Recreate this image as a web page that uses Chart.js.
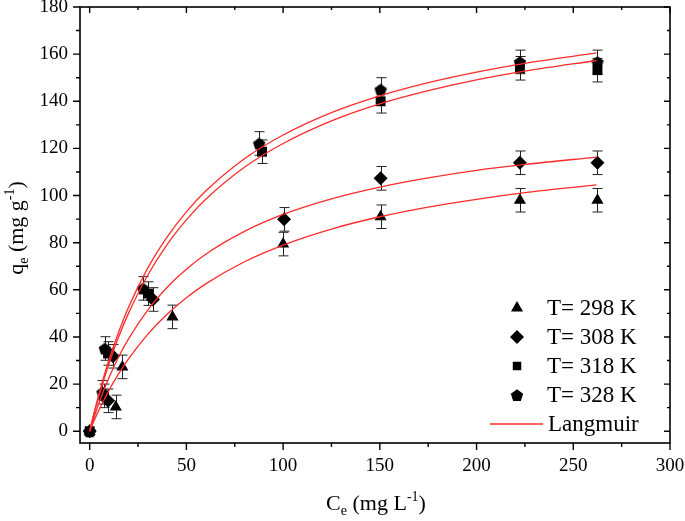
<!DOCTYPE html>
<html>
<head>
<meta charset="utf-8">
<script src="https://cdn.jsdelivr.net/npm/chart.js@4.4.0/dist/chart.umd.min.js"></script>
<style>
  html, body { margin: 0; padding: 0; background: #fff; }
</style>
</head>
<body>
<canvas id="chart" width="685" height="521"></canvas>
<script>
const ce298 = [0, 13.5, 16.9, 42.8, 100, 150.4, 222.4, 262.5];
const qe298 = [0, 10.3, 27.3, 48.5, 79.4, 91, 98, 98];
const ce308 = [0, 9.5, 12, 32.7, 100.5, 150.4, 222.4, 262.5];
const qe308 = [0, 12.9, 31.8, 55.9, 89.9, 107.3, 113.9, 113.9];
const ce318 = [0, 7.2, 9.5, 30.2, 89.1, 150.4, 222.4, 262.5];
const qe318 = [0, 15.0, 33, 58.4, 118.6, 140, 154, 153.2];
const ce328 = [0, 6.6, 7.8, 27.6, 87.6, 150.4, 222.4, 262.5];
const qe328 = [0, 16.5, 35.1, 60.6, 122.1, 145, 156.7, 156.7];
// error bar half heights
const err298 = [0, 5, 5, 5, 5, 5, 5, 5];
const err308 = [0, 5, 5, 5, 5, 5, 5, 5];
const err318 = [0, 5, 5, 5, 5, 5, 5, 5];
const err328 = [0, 5, 5, 5, 5, 5, 5, 5];

// Langmuir curves
const fitCe = [0, 2, 5, 10, 15, 20, 30, 40, 50, 60, 80, 100, 125, 150, 175, 200, 225, 262];
const fit298 = [0, 3.9, 9.3, 17.4, 24.4, 30.6, 41.1, 49.6, 56.6, 62.5, 71.9, 79.0, 85.8, 91.0, 95.1, 98.4, 101.2, 104.5];
const fit308 = [0, 5.2, 12.4, 22.8, 31.6, 39.1, 51.4, 61.0, 68.7, 75.1, 84.8, 92.0, 98.6, 103.6, 107.5, 110.7, 113.2, 116.3];
const fit318 = [0, 6.5, 15.5, 28.7, 40.1, 49.9, 66.2, 79.2, 89.7, 98.4, 112.0, 122.1, 131.7, 138.9, 144.5, 149.1, 152.8, 157.3];
const fit328 = [0, 6.9, 16.4, 30.3, 42.1, 52.4, 69.2, 82.4, 93.1, 101.9, 115.6, 125.7, 135.2, 142.3, 147.9, 152.4, 156.1, 160.5];

// axis ticks (labelled ones are the majors)
const xTicks = [0, 25, 50, 75, 100, 125, 150, 175, 200, 225, 250, 275, 300];
const xLabels = [0, 50, 100, 150, 200, 250, 300];
const yTicks = [0, 10, 20, 30, 40, 50, 60, 70, 80, 90, 100, 110, 120, 130, 140, 150, 160, 170, 180];
const yLabels = [0, 20, 40, 60, 80, 100, 120, 140, 160, 180];

const seriesLabels = ["T= 298 K", "T= 308 K", "T= 318 K", "T= 328 K"];
const fitLabel = "Langmuir";

const SERIF = "'Liberation Serif', 'DejaVu Serif', serif";
const RED = "#ff2a2a";

// pentagon marker (no built-in style)
function makePentagon(size) {
  const c = document.createElement("canvas");
  c.width = size; c.height = size;
  const g = c.getContext("2d");
  const r = size / 2 - 0.5;
  g.beginPath();
  for (let i = 0; i < 5; i++) {
    const a = -Math.PI / 2 + i * 2 * Math.PI / 5;
    const px = size / 2 + r * Math.cos(a);
    const py = size / 2 + 0.8 + r * Math.sin(a);
    if (i === 0) g.moveTo(px, py); else g.lineTo(px, py);
  }
  g.closePath();
  g.fillStyle = "#000";
  g.fill();
  return c;
}
const pentagon = makePentagon(14);

const pts = (xs, ys) => xs.map((x, i) => ({ x: x, y: ys[i] }));

function markerSet(label, xs, ys, errs, style, radius) {
  return {
    label: label, data: pts(xs, ys), errs: errs,
    showLine: false, pointStyle: style, pointRadius: radius, pointHoverRadius: radius,
    backgroundColor: "#000", borderColor: "#000", borderWidth: 0, order: 2
  };
}
function fitSet(ys) {
  return {
    label: fitLabel, data: pts(fitCe, ys), showLine: true, pointRadius: 0,
    borderColor: RED, borderWidth: 1.3, cubicInterpolationMode: "monotone",
    fill: false, order: 1
  };
}

const datasets = [
  markerSet(seriesLabels[0], ce298, qe298, err298, "triangle", 7),
  markerSet(seriesLabels[1], ce308, qe308, err308, "rectRot", 7),
  markerSet(seriesLabels[2], ce318, qe318, err318, "rect", 7),
  markerSet(seriesLabels[3], ce328, qe328, err328, pentagon, 7),
  fitSet(fit298), fitSet(fit308), fitSet(fit318), fitSet(fit328)
];

const errorBars = {
  id: "errorBars",
  beforeDatasetsDraw(chart) {
    const ctx = chart.ctx, xs = chart.scales.x, ys = chart.scales.y;
    ctx.save();
    ctx.strokeStyle = "#222";
    ctx.lineWidth = 1;
    chart.data.datasets.forEach(ds => {
      if (!ds.errs) return;
      ds.data.forEach((p, i) => {
        const e = ds.errs[i];
        if (!e) return;
        const px = Math.round(xs.getPixelForValue(p.x)) + 0.5;
        const top = ys.getPixelForValue(p.y + e);
        const bot = ys.getPixelForValue(p.y - e);
        ctx.beginPath();
        ctx.moveTo(px, top); ctx.lineTo(px, bot);
        ctx.moveTo(px - 5, top); ctx.lineTo(px + 5, top);
        ctx.moveTo(px - 5, bot); ctx.lineTo(px + 5, bot);
        ctx.stroke();
      });
    });
    ctx.restore();
  }
};

const frame = {
  id: "frame",
  afterDraw(chart) {
    const ctx = chart.ctx, a = chart.chartArea;
    const xs = chart.scales.x, ys = chart.scales.y;
    ctx.save();
    ctx.strokeStyle = "#000";
    ctx.lineWidth = 1.6;
    ctx.strokeRect(a.left, a.top, a.right - a.left, a.bottom - a.top);
    ctx.lineWidth = 1.4;
    ctx.beginPath();
    xTicks.forEach(v => {
      const px = xs.getPixelForValue(v);
      const major = xLabels.includes(v);
      ctx.moveTo(px, a.bottom); ctx.lineTo(px, a.bottom + (major ? 7 : 4));
      ctx.moveTo(px, a.top); ctx.lineTo(px, a.top + (major ? 6 : 3));
    });
    yTicks.forEach(v => {
      const py = ys.getPixelForValue(v);
      const major = yLabels.includes(v);
      ctx.moveTo(a.left, py); ctx.lineTo(a.left - (major ? 7 : 4), py);
      ctx.moveTo(a.right, py); ctx.lineTo(a.right - (major ? 6 : 3), py);
    });
    ctx.stroke();

    // axis titles
    ctx.fillStyle = "#000";
    ctx.textBaseline = "alphabetic";
    const big = "22px " + SERIF, small = "14px " + SERIF;
    function runs(parts) {
      let w = 0;
      parts.forEach(p => { ctx.font = p[1]; w += ctx.measureText(p[0]).width; });
      return w;
    }
    function drawRuns(parts, x, y) {
      parts.forEach(p => {
        ctx.font = p[1];
        ctx.fillText(p[0], x, y + p[2]);
        x += ctx.measureText(p[0]).width;
      });
    }
    const xt = [["C", big, 0], ["e", small, 5], [" (mg L", big, 0], ["-1", small, -9], [")", big, 0]];
    drawRuns(xt, 376 - runs(xt) / 2, 510);
    const yt = [["q", big, 0], ["e", small, 5], [" (mg g", big, 0], ["-1", small, -9], [")", big, 0]];
    ctx.translate(23, 228);
    ctx.rotate(-Math.PI / 2);
    drawRuns(yt, -runs(yt) / 2, 0);
    ctx.restore();

    // legend
    ctx.save();
    ctx.font = "23px " + SERIF;
    ctx.fillStyle = "#000";
    ctx.textBaseline = "middle";
    const rows = [308, 337, 366, 395, 424];
    for (let i = 0; i < 4; i++) {
      const ds = chart.data.datasets[i];
      Chart.helpers.drawPoint(ctx, {
        pointStyle: ds.pointStyle, radius: ds.pointStyle === "rect" ? 6 : 7,
        rotation: 0, borderWidth: 0
      }, 517, rows[i]);
      ctx.fillStyle = "#000";
      ctx.fillText(ds.label, 547, rows[i] + 1);
    }
    ctx.strokeStyle = RED;
    ctx.lineWidth = 1.3;
    ctx.beginPath();
    ctx.moveTo(490, rows[4]); ctx.lineTo(543, rows[4]);
    ctx.stroke();
    ctx.fillText(fitLabel, 548, rows[4] + 1);
    ctx.restore();
  }
};

new Chart(document.getElementById("chart"), {
  type: "scatter",
  data: { datasets: datasets },
  options: {
    responsive: false,
    animation: false,
    devicePixelRatio: 1,
    layout: { padding: { top: 7, right: 15, bottom: 0, left: 0 } },
    plugins: { legend: { display: false }, tooltip: { enabled: false } },
    scales: {
      x: {
        type: "linear", min: -5, max: 300,
        grid: { display: false, drawTicks: false },
        border: { display: false },
        afterBuildTicks: s => { s.ticks = xLabels.map(v => ({ value: v })); },
        ticks: {
          autoSkip: false, maxRotation: 0, padding: 12, color: "#000",
          font: { family: SERIF, size: 19 },
          callback: v => String(v)
        },
        afterFit: s => { s.height = 78; s.paddingLeft = 0; s.paddingRight = 0; }
      },
      y: {
        type: "linear", min: -5, max: 180,
        grid: { display: false, drawTicks: false },
        border: { display: false },
        afterBuildTicks: s => { s.ticks = yLabels.map(v => ({ value: v })); },
        ticks: {
          autoSkip: false, padding: 12, color: "#000",
          font: { family: SERIF, size: 19 },
          callback: v => String(v)
        },
        afterFit: s => { s.width = 80; s.paddingTop = 0; s.paddingBottom = 0; }
      }
    }
  },
  plugins: [errorBars, frame]
});
</script>
</body>
</html>
